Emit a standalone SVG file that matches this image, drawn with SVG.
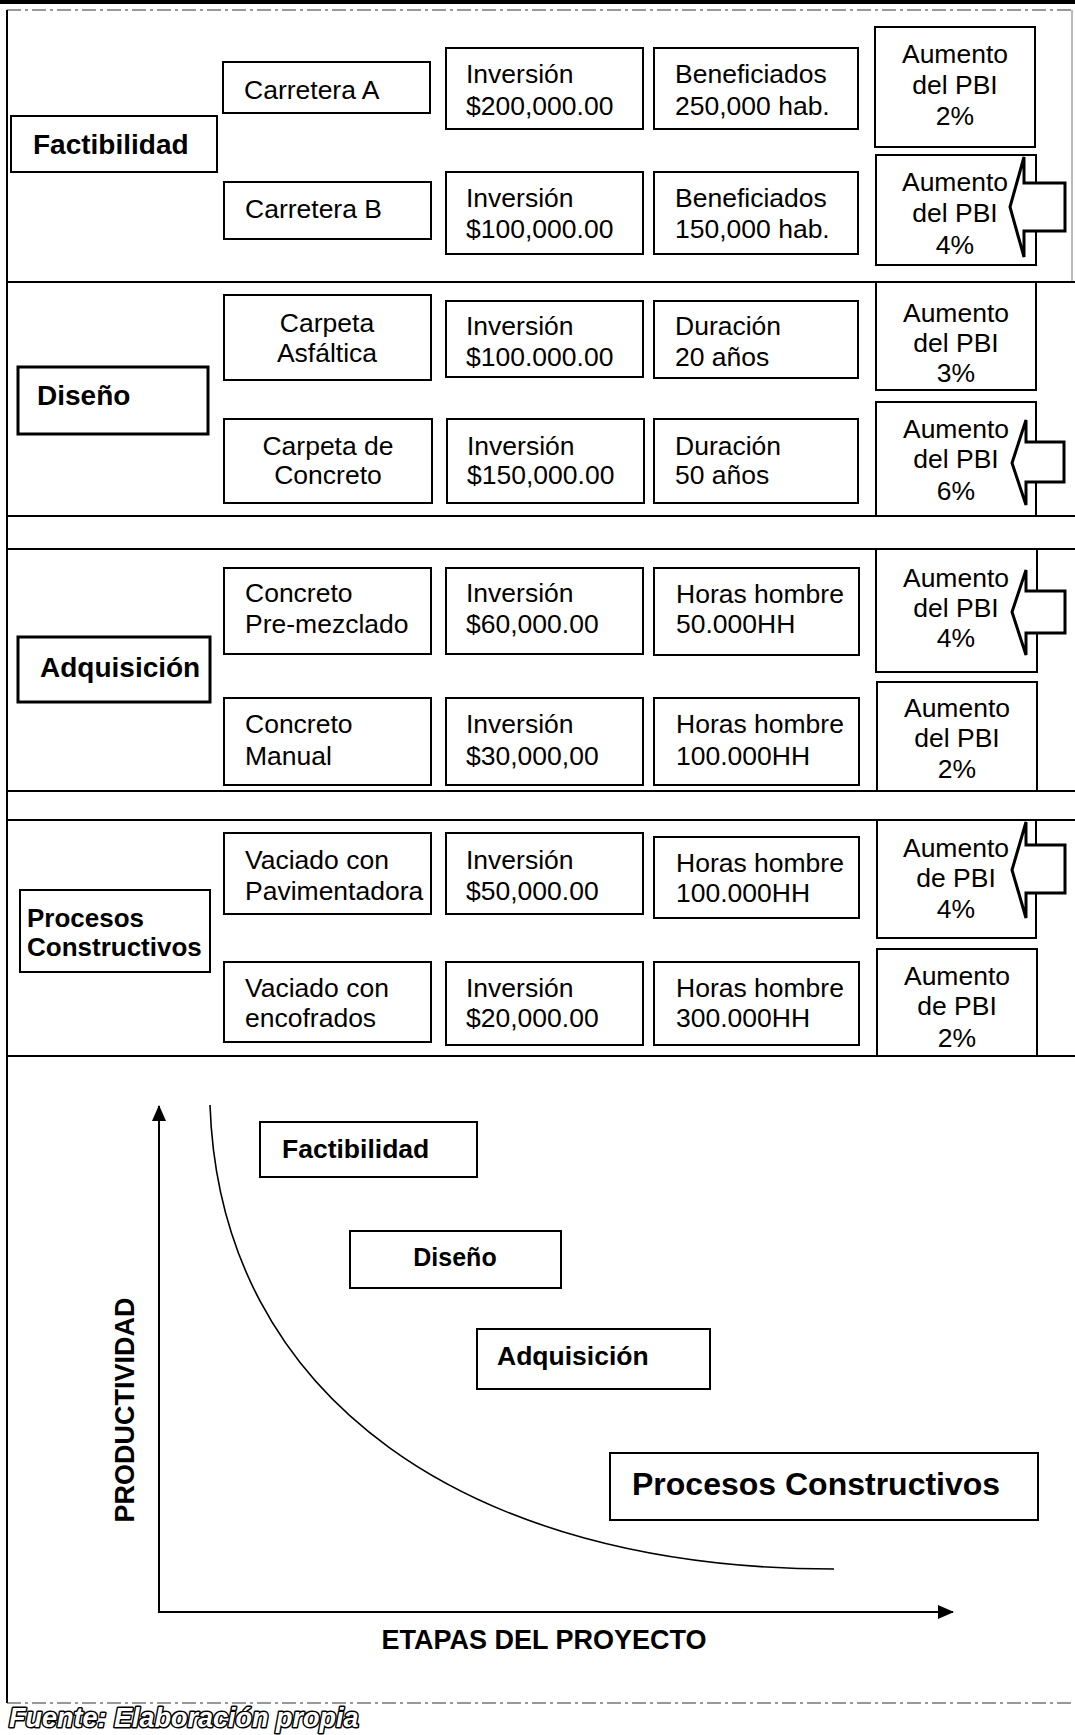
<svg xmlns="http://www.w3.org/2000/svg" width="1075" height="1735" viewBox="0 0 1075 1735">
  <style>
    .bx { fill: #fff; stroke: #000; stroke-width: 2; }
    .bxk { fill: #fff; stroke: #000; stroke-width: 3; }
    .t { font-family: "Liberation Sans", Arial, sans-serif; font-size: 26.5px; fill: #000; }
    .c { text-anchor: middle; }
    .lb { font-family: "Liberation Sans", Arial, sans-serif; font-size: 28px; font-weight: bold; fill: #000; }
    .cl { font-family: "Liberation Sans", Arial, sans-serif; font-size: 26.5px; font-weight: bold; fill: #000; }
    .ln { stroke: #000; stroke-width: 2; fill: none; }
    .dash { stroke: #333; stroke-width: 1.2; stroke-dasharray: 14 4 3 4; fill: none; }
    .arr { fill: #fff; stroke: #000; stroke-width: 3; stroke-linejoin: miter; }
  </style>
  <defs>
    <marker id="ahb" viewBox="0 0 16 16" refX="15" refY="8" markerWidth="16" markerHeight="16" orient="auto" markerUnits="userSpaceOnUse">
      <path d="M0,1 L16,8 L0,15 Z" fill="#000"/>
    </marker>
  </defs>
  <rect width="1075" height="1735" fill="#fff"/>

  <!-- frame and section rules -->
  <g id="frame">
    <rect x="0" y="0" width="1075" height="4" fill="#000"/>
    <line class="dash" x1="7" y1="10" x2="1075" y2="10"/>
    <line class="ln" x1="7" y1="10" x2="7" y2="1703"/>
    <line x1="1072" y1="10" x2="1072" y2="282" stroke="#777" stroke-width="1"/>
    <line class="ln" x1="7" y1="282" x2="1075" y2="282"/>
    <line class="ln" x1="7" y1="516" x2="1075" y2="516"/>
    <line class="ln" x1="7" y1="549" x2="1075" y2="549"/>
    <line class="ln" x1="7" y1="791" x2="1075" y2="791"/>
    <line class="ln" x1="7" y1="820" x2="1075" y2="820"/>
    <line class="ln" x1="7" y1="1056" x2="1075" y2="1056"/>
    <line class="dash" x1="7" y1="1703" x2="1075" y2="1703"/>
  </g>

  <!-- Section 1: Factibilidad -->
  <g id="factibilidad">
    <rect class="bx" x="11" y="116" width="206" height="56"/>
    <text class="lb" x="33" y="154">Factibilidad</text>
  </g>
  <g id="carretera-a">
    <rect class="bx" x="223" y="62" width="207" height="51"/>
    <text class="t" x="244" y="99">Carretera A</text>
  </g>
  <g id="inversion-a">
    <rect class="bx" x="446" y="48" width="197" height="81"/>
    <text class="t" x="466" y="83">Inversión</text>
    <text class="t" x="466" y="115">$200,000.00</text>
  </g>
  <g id="beneficiados-a">
    <rect class="bx" x="654" y="48" width="204" height="81"/>
    <text class="t" x="675" y="83">Beneficiados</text>
    <text class="t" x="675" y="115">250,000 hab.</text>
  </g>
  <g id="pbi-a">
    <rect class="bx" x="875" y="27" width="160" height="120"/>
    <text class="t c" x="955" y="63">Aumento</text>
    <text class="t c" x="955" y="94">del PBI</text>
    <text class="t c" x="955" y="125">2%</text>
  </g>
  <g id="carretera-b">
    <rect class="bx" x="224" y="182" width="207" height="57"/>
    <text class="t" x="245" y="218">Carretera B</text>
  </g>
  <g id="inversion-b">
    <rect class="bx" x="446" y="172" width="197" height="82"/>
    <text class="t" x="466" y="207">Inversión</text>
    <text class="t" x="466" y="238">$100,000.00</text>
  </g>
  <g id="beneficiados-b">
    <rect class="bx" x="654" y="172" width="204" height="82"/>
    <text class="t" x="675" y="207">Beneficiados</text>
    <text class="t" x="675" y="238">150,000 hab.</text>
  </g>
  <g id="pbi-b">
    <rect class="bx" x="876" y="155" width="160" height="110"/>
    <text class="t c" x="955" y="191">Aumento</text>
    <text class="t c" x="955" y="222">del PBI</text>
    <text class="t c" x="955" y="254">4%</text>
  </g>

  <!-- Section 2: Diseño -->
  <g id="diseno">
    <rect class="bxk" x="18" y="367" width="190" height="67"/>
    <text class="lb" x="37" y="405">Diseño</text>
  </g>
  <g id="carpeta-asfaltica">
    <rect class="bx" x="224" y="295" width="207" height="85"/>
    <text class="t c" x="327" y="332">Carpeta</text>
    <text class="t c" x="327" y="362">Asfáltica</text>
  </g>
  <g id="inversion-c">
    <rect class="bx" x="446" y="301" width="197" height="76"/>
    <text class="t" x="466" y="335">Inversión</text>
    <text class="t" x="466" y="366">$100.000.00</text>
  </g>
  <g id="duracion-c">
    <rect class="bx" x="654" y="301" width="204" height="77"/>
    <text class="t" x="675" y="335">Duración</text>
    <text class="t" x="675" y="366">20 años</text>
  </g>
  <g id="pbi-c">
    <rect class="bx" x="876" y="282" width="160" height="108"/>
    <text class="t c" x="956" y="322">Aumento</text>
    <text class="t c" x="956" y="352">del PBI</text>
    <text class="t c" x="956" y="382">3%</text>
  </g>
  <g id="carpeta-concreto">
    <rect class="bx" x="224" y="419" width="208" height="84"/>
    <text class="t c" x="328" y="455">Carpeta de</text>
    <text class="t c" x="328" y="484">Concreto</text>
  </g>
  <g id="inversion-d">
    <rect class="bx" x="447" y="419" width="197" height="84"/>
    <text class="t" x="467" y="455">Inversión</text>
    <text class="t" x="467" y="484">$150,000.00</text>
  </g>
  <g id="duracion-d">
    <rect class="bx" x="654" y="419" width="204" height="84"/>
    <text class="t" x="675" y="455">Duración</text>
    <text class="t" x="675" y="484">50 años</text>
  </g>
  <g id="pbi-d">
    <rect class="bx" x="876" y="402" width="160" height="114"/>
    <text class="t c" x="956" y="438">Aumento</text>
    <text class="t c" x="956" y="468">del PBI</text>
    <text class="t c" x="956" y="500">6%</text>
  </g>

  <!-- Section 3: Adquisición -->
  <g id="adquisicion">
    <rect class="bxk" x="18" y="637" width="192" height="65"/>
    <text class="lb" x="40" y="677">Adquisición</text>
  </g>
  <g id="concreto-premezclado">
    <rect class="bx" x="224" y="568" width="207" height="86"/>
    <text class="t" x="245" y="602">Concreto</text>
    <text class="t" x="245" y="633">Pre-mezclado</text>
  </g>
  <g id="inversion-e">
    <rect class="bx" x="446" y="568" width="197" height="86"/>
    <text class="t" x="466" y="602">Inversión</text>
    <text class="t" x="466" y="633">$60,000.00</text>
  </g>
  <g id="horas-e">
    <rect class="bx" x="654" y="568" width="205" height="87"/>
    <text class="t" x="676" y="603">Horas hombre</text>
    <text class="t" x="676" y="633">50.000HH</text>
  </g>
  <g id="pbi-e">
    <rect class="bx" x="876" y="549" width="161" height="123"/>
    <text class="t c" x="956" y="587">Aumento</text>
    <text class="t c" x="956" y="617">del PBI</text>
    <text class="t c" x="956" y="647">4%</text>
  </g>
  <g id="concreto-manual">
    <rect class="bx" x="224" y="698" width="207" height="87"/>
    <text class="t" x="245" y="733">Concreto</text>
    <text class="t" x="245" y="765">Manual</text>
  </g>
  <g id="inversion-f">
    <rect class="bx" x="446" y="698" width="197" height="87"/>
    <text class="t" x="466" y="733">Inversión</text>
    <text class="t" x="466" y="765">$30,000,00</text>
  </g>
  <g id="horas-f">
    <rect class="bx" x="654" y="698" width="205" height="87"/>
    <text class="t" x="676" y="733">Horas hombre</text>
    <text class="t" x="676" y="765">100.000HH</text>
  </g>
  <g id="pbi-f">
    <rect class="bx" x="877" y="682" width="160" height="109"/>
    <text class="t c" x="957" y="717">Aumento</text>
    <text class="t c" x="957" y="747">del PBI</text>
    <text class="t c" x="957" y="778">2%</text>
  </g>

  <!-- Section 4: Procesos Constructivos -->
  <g id="procesos">
    <rect class="bx" x="20" y="890" width="190" height="82"/>
    <text class="lb" x="27" y="927" style="font-size:26px">Procesos</text>
    <text class="lb" x="27" y="956" style="font-size:26px">Constructivos</text>
  </g>
  <g id="vaciado-pavimentadora">
    <rect class="bx" x="224" y="833" width="207" height="81"/>
    <text class="t" x="245" y="869">Vaciado con</text>
    <text class="t" x="245" y="900">Pavimentadora</text>
  </g>
  <g id="inversion-g">
    <rect class="bx" x="446" y="833" width="197" height="81"/>
    <text class="t" x="466" y="869">Inversión</text>
    <text class="t" x="466" y="900">$50,000.00</text>
  </g>
  <g id="horas-g">
    <rect class="bx" x="654" y="837" width="205" height="81"/>
    <text class="t" x="676" y="872">Horas hombre</text>
    <text class="t" x="676" y="902">100.000HH</text>
  </g>
  <g id="pbi-g">
    <rect class="bx" x="877" y="820" width="159" height="118"/>
    <text class="t c" x="956" y="857">Aumento</text>
    <text class="t c" x="956" y="887">de PBI</text>
    <text class="t c" x="956" y="918">4%</text>
  </g>
  <g id="vaciado-encofrados">
    <rect class="bx" x="224" y="962" width="207" height="80"/>
    <text class="t" x="245" y="997">Vaciado con</text>
    <text class="t" x="245" y="1027">encofrados</text>
  </g>
  <g id="inversion-h">
    <rect class="bx" x="446" y="962" width="197" height="83"/>
    <text class="t" x="466" y="997">Inversión</text>
    <text class="t" x="466" y="1027">$20,000.00</text>
  </g>
  <g id="horas-h">
    <rect class="bx" x="654" y="962" width="205" height="83"/>
    <text class="t" x="676" y="997">Horas hombre</text>
    <text class="t" x="676" y="1027">300.000HH</text>
  </g>
  <g id="pbi-h">
    <rect class="bx" x="877" y="949" width="160" height="107"/>
    <text class="t c" x="957" y="985">Aumento</text>
    <text class="t c" x="957" y="1015">de PBI</text>
    <text class="t c" x="957" y="1047">2%</text>
  </g>

  <!-- block arrows marking the chosen option of each stage, plus chart axes and curve -->
  <g id="connectors">
    <polygon class="arr" points="1010,207 1024,157 1024,183 1065,183 1065,231 1024,231 1024,257"/>
    <polygon class="arr" points="1012,463 1026,420 1026,442 1064,442 1064,482 1026,482 1026,505"/>
    <polygon class="arr" points="1012,612 1026,570 1026,591 1065,591 1065,633 1026,633 1026,655"/>
    <polygon class="arr" points="1012,870 1026,822 1026,845 1065,845 1065,893 1026,893 1026,918"/>

    <line x1="159" y1="1612" x2="159" y2="1106" stroke="#000" stroke-width="2" marker-end="url(#ahb)"/>
    <line x1="158" y1="1612" x2="953" y2="1612" stroke="#000" stroke-width="2" marker-end="url(#ahb)"/>
    <path d="M210,1105 C220,1400 470,1569 834,1569" fill="none" stroke="#000" stroke-width="1.6"/>
  </g>

  <!-- chart labels -->
  <g id="chart-factibilidad">
    <rect class="bx" x="260" y="1122" width="217" height="55"/>
    <text class="cl" x="282" y="1158">Factibilidad</text>
  </g>
  <g id="chart-diseno">
    <rect class="bx" x="350" y="1231" width="211" height="57"/>
    <text class="cl c" x="455" y="1266" style="font-size:25px">Diseño</text>
  </g>
  <g id="chart-adquisicion">
    <rect class="bx" x="477" y="1329" width="233" height="60"/>
    <text class="cl" x="497" y="1365">Adquisición</text>
  </g>
  <g id="chart-procesos">
    <rect class="bx" x="610" y="1453" width="428" height="67"/>
    <text class="cl" x="632" y="1495" style="font-size:32px">Procesos Constructivos</text>
  </g>
  <text class="cl" transform="translate(134,1410) rotate(-90)" text-anchor="middle" style="font-size:27px">PRODUCTIVIDAD</text>
  <text class="cl c" x="544" y="1649" style="font-size:27px">ETAPAS DEL PROYECTO</text>

  <text x="9" y="1727" font-family="'Liberation Sans', Arial, sans-serif" font-size="27" font-weight="bold" font-style="italic" fill="#fff" stroke="#000" stroke-width="3" paint-order="stroke" stroke-linejoin="round">Fuente: Elaboración propia</text>
</svg>
